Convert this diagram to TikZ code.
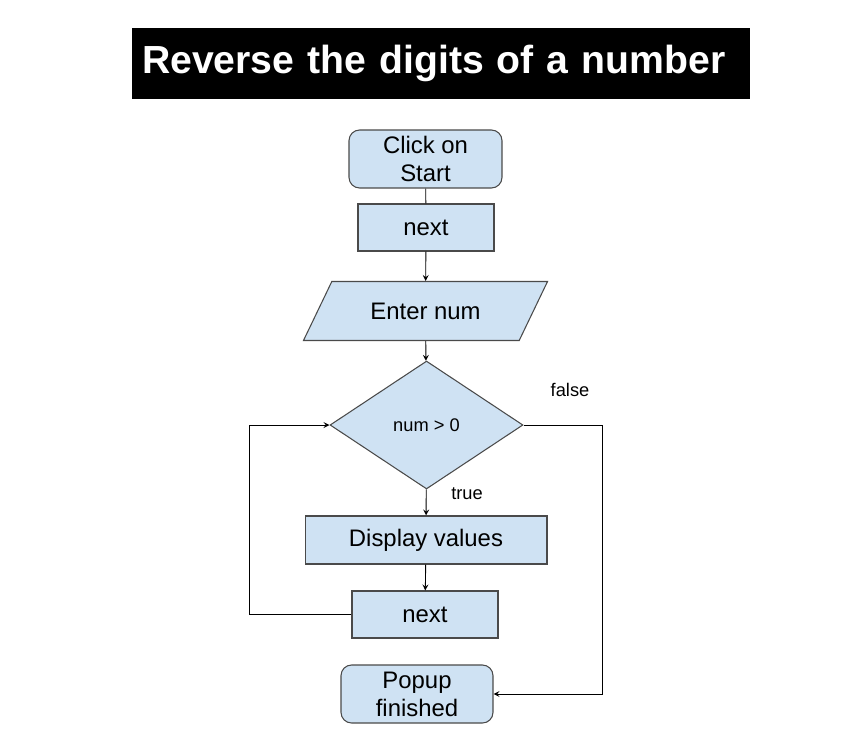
\documentclass[tikz,border=0pt]{standalone}
\usepackage{fontspec}
\setmainfont{Liberation Sans}
\usepackage{xcolor}
\usepackage{tikz}
\usetikzlibrary{shapes,shapes.geometric}
\usetikzlibrary{calc,arrows,positioning}
\definecolor{flowblue}{HTML}{CFE2F3}
\definecolor{flowline}{HTML}{4A4A4A}
\tikzset{
  fc_base/.style = {draw=flowline, fill=flowblue, line width=0.6pt, align=center, inner sep=0pt, font=\fontsize{13.6}{15.9}\selectfont},
  fc_box/.style = {fc_base, rectangle},
  fc_term/.style = {fc_base, rectangle, rounded corners=6pt},
  fc_io/.style = {fc_base, trapezium, trapezium left angle=45, trapezium right angle=135, trapezium stretches=true},
  fc_cond/.style = {fc_base, diamond, font=\fontsize{10.4}{12}\selectfont},
  fc_lbl/.style = {font=\fontsize{10.4}{12}\selectfont, inner sep=0pt},
  fc_arr/.style = {draw=black, line width=0.5pt, -stealth}
}
\begin{document}
\begin{tikzpicture}[x=0.02cm, y=-0.02cm]
			\useasboundingbox (0,0) rectangle (861,733);
			% title bar
			\node[fill=black, text=white, minimum width=12.36cm, minimum height=1.42cm, text width=11.96cm, align=left, font=\fontsize{22.3}{27}\selectfont\bfseries] (title) at (441,63.5) {Reverse the digits of a number};
			% flow
			\node[fc_term, minimum width=3.06cm, minimum height=1.16cm] (start) at (425.5,159) {Click on\\Start};
			\node[fc_box, minimum width=2.72cm, minimum height=0.94cm] (next_a) at (426,227.5) {next};
			\node[fc_io, minimum width=4.9cm, minimum height=1.18cm] (input) at (425.5,311) {Enter num};
			\node[fc_cond, minimum width=3.86cm, minimum height=2.56cm] (cond) at (426.5,425) {num > 0};
			\node[fc_box, minimum width=4.84cm, minimum height=0.96cm] (show) at (426,540) {Display values};
			\node[fc_box, minimum width=2.92cm, minimum height=0.94cm] (next_b) at (425,614.5) {next};
			\node[fc_term, minimum width=3.04cm, minimum height=1.16cm] (popup) at (417,694) {Popup\\finished};
			\node[fc_lbl] (lbl_false) at (570,390) {false};
			\node[fc_lbl] (lbl_true) at (467,494) {true};
			% connectors
			\draw[line width=0.5pt] (start) -- (next_a);
			\draw[fc_arr] (next_a) -- (input);
			\draw[fc_arr] (input) -- (cond);
			\draw[fc_arr] (cond) -- (show);
			\draw[fc_arr] (show) -- (next_b);
			\draw[fc_arr] (next_b.west) -- ++(-102,0) |- (cond.west);
			\draw[fc_arr] (cond.east) -- ++(79,0) |- (popup.east);
\end{tikzpicture}
\end{document}
